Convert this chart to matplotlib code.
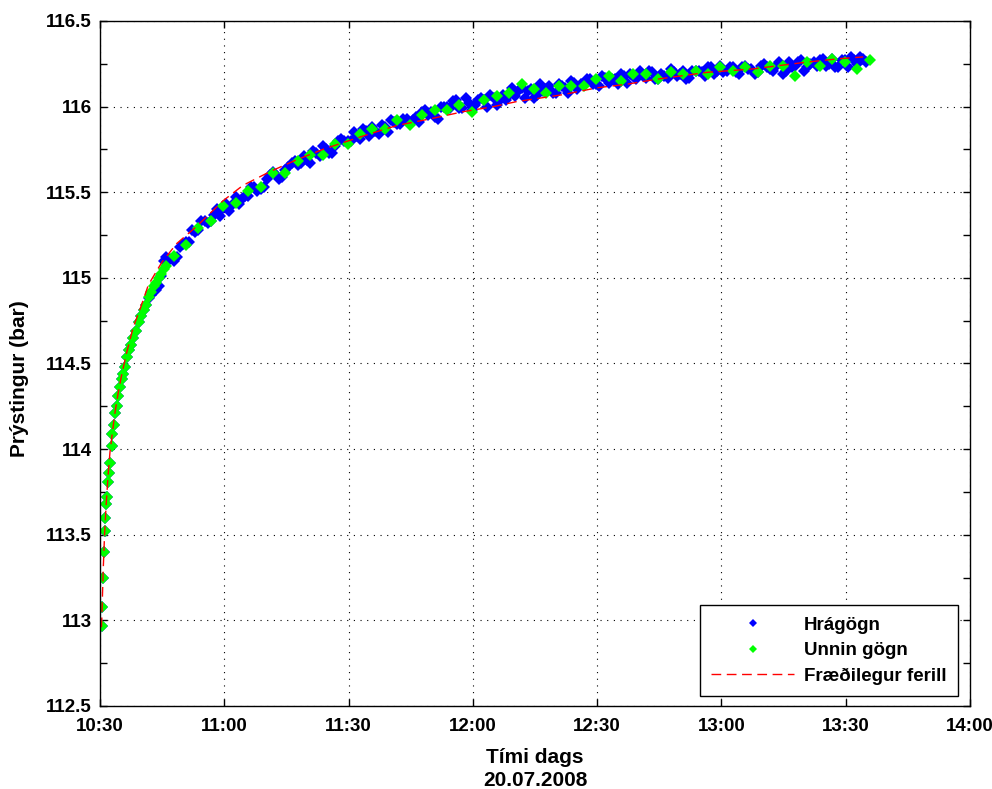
import pandas as pd
import matplotlib
matplotlib.use("Agg")
import matplotlib.pyplot as plt
import matplotlib.dates as mdates
from matplotlib.ticker import MultipleLocator

plt.rcParams["font.family"] = ["Liberation Sans", "DejaVu Sans"]
plt.rcParams["font.weight"] = "bold"

# minutes after 10:30 on 20.07.2008
t_early = [0.5, 0.6, 0.8, 1.0, 1.15, 1.3, 1.45, 1.6, 1.9, 2.1, 2.4, 2.8, 3.0, 3.35, 3.6, 4.0,
           4.4, 4.8, 5.2, 5.6, 6.0, 6.5, 7.0, 7.5, 8.0, 8.8, 9.4, 10.0, 10.6, 11.2, 11.8, 12.4,
           13.0, 13.6, 14.2, 14.8, 15.4, 16.0]
raw_early = [112.97, 113.08, 113.25, 113.40, 113.52, 113.60, 113.68, 113.72, 113.81, 113.86, 113.92,
             114.02, 114.09, 114.14, 114.21, 114.25, 114.31, 114.36, 114.41, 114.44, 114.48, 114.54,
             114.58, 114.61, 114.65, 114.69, 114.74, 114.78, 114.81, 114.84, 114.88, 114.90, 114.93,
             114.93, 114.95, 115.01, 115.10, 115.12]
proc_early = [112.97, 113.08, 113.25, 113.40, 113.52, 113.60, 113.68, 113.72, 113.81, 113.86, 113.92,
              114.02, 114.09, 114.14, 114.21, 114.25, 114.31, 114.36, 114.41, 114.44, 114.48, 114.54,
              114.58, 114.61, 114.65, 114.69, 114.74, 114.78, 114.81, 114.84, 114.89, 114.92, 114.95,
              114.97, 115.00, 115.02, 115.05, 115.07]

t_raw = [17.0, 18.5, 20.0, 21.5, 23.0, 24.5, 26.0, 27.5, 29.0, 30.5, 32.0, 33.5, 35.0, 36.5, 38.0,
         39.5, 41.0, 42.5, 44.0, 45.5, 47.0, 48.5, 50.0, 51.5, 53.0, 54.5, 56.0, 57.5, 59.0, 60.5,
         62.0, 63.5, 65.0, 66.5, 68.0, 69.5, 71.0, 72.5, 74.0, 75.5, 77.0, 78.5, 80.0, 81.5, 83.0,
         84.5, 86.0, 87.5, 89.0, 90.5, 92.0, 93.5, 95.0, 96.5, 98.0, 99.5, 101.0, 102.5, 104.0, 105.5,
         107.0, 108.5, 110.0, 111.5, 113.0, 114.5, 116.0, 117.5, 119.0, 120.5, 122.0, 123.5, 125.0,
         126.5, 128.0, 129.5, 131.0, 132.5, 134.0, 135.5, 137.0, 138.5, 140.0, 141.5, 143.0, 144.5,
         146.0, 147.5, 149.0, 150.5, 152.0, 153.5, 155.0, 156.5, 158.0, 159.5, 161.0, 162.5, 164.0,
         165.5, 167.0, 168.5, 170.0, 171.5, 173.0, 174.5, 176.0, 177.5, 179.0, 180.5, 182.0, 183.5, 185.0]
p_raw = [115.11, 115.12, 115.20, 115.21, 115.27, 115.33, 115.32, 115.37, 115.36, 115.43, 115.43, 115.43,
         115.48, 115.53, 115.51, 115.53, 115.60, 115.60, 115.59, 115.65, 115.68, 115.67, 115.69, 115.74,
         115.71, 115.75, 115.73, 115.80, 115.80, 115.80, 115.83, 115.87, 115.83, 115.86, 115.89, 115.85,
         115.91, 115.90, 115.93, 115.92, 115.91, 115.98, 115.97, 115.93, 116.00, 115.99, 116.04, 115.99,
         116.02, 116.01, 116.05, 116.00, 116.05, 116.04, 116.04, 116.11, 116.09, 116.05, 116.10, 116.07,
         116.09, 116.12, 116.08, 116.12, 116.08, 116.14, 116.13, 116.16, 116.13, 116.12, 116.17, 116.16,
         116.13, 116.18, 116.19, 116.16, 116.18, 116.21, 116.16, 116.19, 116.17, 116.20, 116.19, 116.16,
         116.21, 116.21, 116.18, 116.23, 116.21, 116.20, 116.23, 116.20, 116.23, 116.22, 116.19, 116.24,
         116.23, 116.21, 116.26, 116.21, 116.23, 116.26, 116.21, 116.25, 116.24, 116.28, 116.25, 116.23,
         116.27, 116.23, 116.27, 116.29, 116.26]

t_raw2 = [17.75, 19.25, 20.75, 22.25, 23.75, 25.25, 26.75, 28.25, 29.75, 31.25, 32.75, 34.25, 35.75,
          37.25, 38.75, 40.25, 41.75, 43.25, 44.75, 46.25, 47.75, 49.25, 50.75, 52.25, 53.75, 55.25,
          56.75, 58.25, 59.75, 61.25, 62.75, 64.25, 65.75, 67.25, 68.75, 70.25, 71.75, 73.25, 74.75,
          76.25, 77.75, 79.25, 80.75, 82.25, 83.75, 85.25, 86.75, 88.25, 89.75, 91.25, 92.75, 94.25,
          95.75, 97.25, 98.75, 100.25, 101.75, 103.25, 104.75, 106.25, 107.75, 109.25, 110.75, 112.25,
          113.75, 115.25, 116.75, 118.25, 119.75, 121.25, 122.75, 124.25, 125.75, 127.25, 128.75, 130.25,
          131.75, 133.25, 134.75, 136.25, 137.75, 139.25, 140.75, 142.25, 143.75, 145.25, 146.75, 148.25,
          149.75, 151.25, 152.75, 154.25, 155.75, 157.25, 158.75, 160.25, 161.75, 163.25, 164.75, 166.25,
          167.75, 169.25, 170.75, 172.25, 173.75, 175.25, 176.75, 178.25, 179.75, 181.25, 182.75, 184.25]
p_raw2 = [115.10, 115.18, 115.21, 115.28, 115.28, 115.33, 115.33, 115.40, 115.41, 115.39, 115.47, 115.46,
          115.48, 115.53, 115.52, 115.58, 115.62, 115.58, 115.63, 115.67, 115.66, 115.71, 115.67, 115.73,
          115.77, 115.73, 115.77, 115.81, 115.80, 115.85, 115.81, 115.86, 115.88, 115.84, 115.88, 115.92,
          115.90, 115.93, 115.90, 115.94, 115.97, 115.95, 115.94, 116.00, 116.00, 116.03, 115.99, 116.05,
          115.98, 116.04, 116.04, 116.07, 116.01, 116.07, 116.07, 116.06, 116.11, 116.09, 116.05, 116.13,
          116.10, 116.08, 116.13, 116.11, 116.15, 116.10, 116.14, 116.16, 116.13, 116.18, 116.14, 116.16,
          116.19, 116.14, 116.18, 116.21, 116.17, 116.20, 116.16, 116.18, 116.22, 116.18, 116.21, 116.17,
          116.21, 116.20, 116.23, 116.19, 116.24, 116.21, 116.23, 116.19, 116.24, 116.22, 116.20, 116.25,
          116.22, 116.24, 116.19, 116.26, 116.24, 116.27, 116.23, 116.26, 116.27, 116.24, 116.28, 116.23,
          116.27, 116.29, 116.25, 116.28]

t_proc = [17.75, 20.75, 23.75, 26.75, 29.75, 32.75, 35.75, 38.75, 41.75, 44.75, 47.75, 50.75, 53.75,
          56.75, 59.75, 62.75, 65.75, 68.75, 71.75, 74.75, 77.75, 80.75, 83.75, 86.75, 89.75, 92.75,
          95.75, 98.75, 101.75, 104.75, 107.75, 110.75, 113.75, 116.75, 119.75, 122.75, 125.75, 128.75,
          131.75, 134.75, 137.75, 140.75, 143.75, 146.75, 149.75, 152.75, 155.75, 158.75, 161.75, 164.75,
          167.75, 170.75, 173.75, 176.75, 179.75, 182.75, 185.75]
p_proc = [115.13, 115.19, 115.29, 115.33, 115.42, 115.44, 115.51, 115.53, 115.61, 115.61, 115.68, 115.72,
          115.72, 115.78, 115.78, 115.84, 115.87, 115.87, 115.92, 115.89, 115.95, 115.98, 115.98, 116.01,
          115.97, 116.04, 116.06, 116.08, 116.13, 116.10, 116.08, 116.12, 116.12, 116.12, 116.16, 116.18,
          116.15, 116.19, 116.19, 116.16, 116.20, 116.19, 116.21, 116.19, 116.23, 116.21, 116.23, 116.20,
          116.24, 116.24, 116.18, 116.26, 116.24, 116.28, 116.26, 116.22, 116.27]

# theoretical curve
t_fit = [0.35, 0.45, 0.6, 0.8, 1.1, 1.45, 1.9, 2.4, 3.0, 3.6, 4.4, 5.2, 6.4, 8.0, 9.7, 11.7, 14.9,
         18.5, 23.3, 29.7, 34.5, 41.0, 47.5, 53.8, 58.7, 65.0, 71.7, 80.0, 87.6, 95.0, 100.7, 111.8,
         120.0, 127.0, 134.4, 146.5, 157.6, 170.6, 178.6, 184.2]
p_fit = [112.96, 113.02, 113.15, 113.31, 113.50, 113.66, 113.83, 113.98, 114.10, 114.21, 114.33, 114.43,
         114.56, 114.71, 114.82, 114.96, 115.09, 115.20, 115.30, 115.45, 115.54, 115.62, 115.69, 115.75,
         115.79, 115.84, 115.89, 115.93, 115.97, 116.00, 116.03, 116.07, 116.11, 116.13, 116.16, 116.20,
         116.22, 116.26, 116.28, 116.29]

start = pd.Timestamp("2008-07-20 10:30")


def to_time(mins):
    return start + pd.to_timedelta(mins, unit="min")


fig = plt.figure(figsize=(9.92, 7.89), dpi=100)
ax = fig.add_axes([0.1008, 0.1052, 0.8770, 0.8682])

ax.plot(to_time(t_early + t_raw + t_raw2), raw_early + p_raw + p_raw2, "D", color="#0000ff",
        ms=6, mew=0, label="Hrágögn")
ax.plot(to_time(t_early + t_proc), proc_early + p_proc, "D", color="#00ff00", ms=6, mew=0,
        label="Unnin gögn")
ax.plot(to_time(t_fit), p_fit, color="red", lw=1, dashes=(7, 4), label="Fræðilegur ferill")

ax.set_xlim(start, start + pd.Timedelta(minutes=210))
ax.set_ylim(112.5, 116.5)
ax.xaxis.set_major_locator(mdates.MinuteLocator(byminute=[0, 30]))
ax.xaxis.set_major_formatter(mdates.DateFormatter("%H:%M"))
ax.yaxis.set_minor_locator(MultipleLocator(0.25))
ax.set_yticks([112.5, 113, 113.5, 114, 114.5, 115, 115.5, 116, 116.5])
ax.set_yticklabels(["112.5", "113", "113.5", "114", "114.5", "115", "115.5", "116", "116.5"])

ax.tick_params(which="both", direction="in", top=True, right=True, length=5, width=1,
               labelsize=13.5, pad=6)
ax.tick_params(axis="x", pad=9)
ax.grid(True, which="major", color="black", linestyle=(0, (1, 5)), linewidth=0.8)
for s in ax.spines.values():
    s.set_linewidth(1)

ax.set_ylabel("Prýstingur (bar)", fontsize=15, fontweight="bold", labelpad=12)
ax.yaxis.label.set_y(0.478)
ax.set_xlabel("Tími dags\n20.07.2008", fontsize=15, fontweight="bold", labelpad=9,
              linespacing=1.25)

leg = ax.legend(loc="lower right", bbox_to_anchor=(0.9862, 0.0146), borderaxespad=0,
                fontsize=13.5, markerscale=0.65, handlelength=4.4, handletextpad=0.55,
                labelspacing=0.45, borderpad=0.6, fancybox=False, framealpha=1,
                edgecolor="black")
leg.get_frame().set_linewidth(1)
for txt in leg.get_texts():
    txt.set_fontweight("bold")

fig.savefig("out.png", dpi=100)
plt.close(fig)
